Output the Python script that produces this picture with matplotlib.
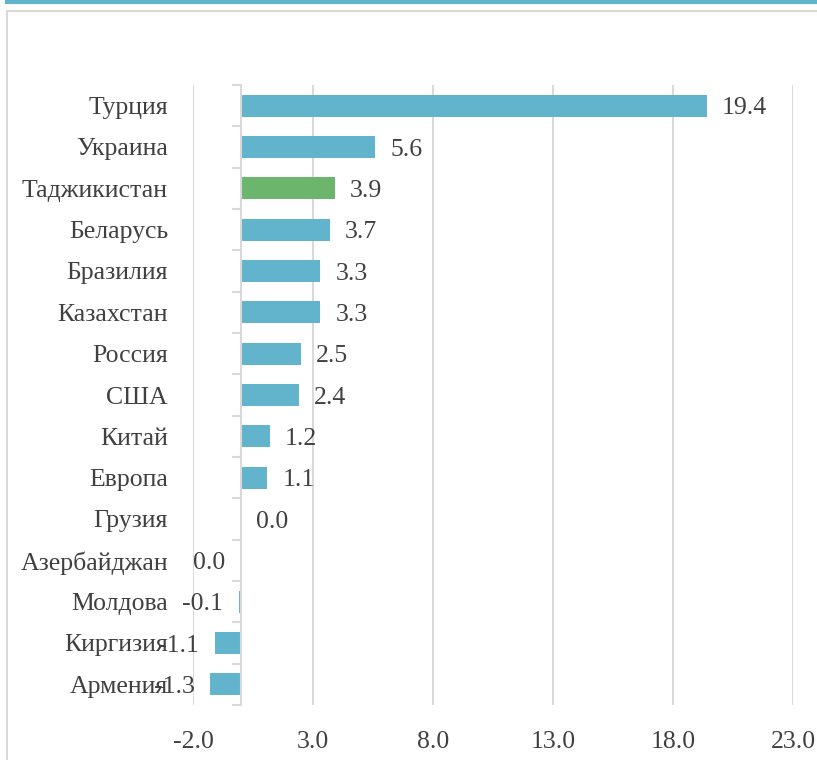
import matplotlib.pyplot as plt
from matplotlib.patches import Rectangle
from matplotlib.lines import Line2D

# данные с картинки (сверху вниз)
countries = ["Турция", "Украина", "Таджикистан", "Беларусь", "Бразилия",
             "Казахстан", "Россия", "США", "Китай", "Европа", "Грузия",
             "Азербайджан", "Молдова", "Киргизия", "Армения"]
values = [19.4, 5.6, 3.9, 3.7, 3.3, 3.3, 2.5, 2.4, 1.2, 1.1, 0.0, -0.01,
          -0.1, -1.1, -1.3]
value_labels = ["19.4", "5.6", "3.9", "3.7", "3.3", "3.3", "2.5", "2.4",
                "1.2", "1.1", "0.0", "0.0", "-0.1", "-1.1", "-1.3"]
highlight = "Таджикистан"
x_ticks = [-2.0, 3.0, 8.0, 13.0, 18.0, 23.0]

BLUE = "#62B4CC"
GREEN = "#6CB56C"
GRID = "#D9D9D9"
TEXT = "#404040"
FS = 18.5

plt.rcParams["font.family"] = ["Liberation Serif", "DejaVu Serif"]

fig = plt.figure(figsize=(8.17, 7.6), dpi=100)

# рамка и верхняя полоса
fig.patches.append(Rectangle((7 / 817, -0.1), 1.0, (760 - 11) / 760 + 0.1,
                             transform=fig.transFigure, fill=False,
                             edgecolor=GRID, linewidth=1.5))
fig.lines.append(Line2D([7 / 817, 1.0], [1 - 1.5 / 760, 1 - 1.5 / 760],
                        transform=fig.transFigure, color=BLUE, linewidth=3))

ax = fig.add_axes([193 / 817, 55 / 760, 600 / 817, 620 / 760])

y = list(range(len(countries)))
colors = [GREEN if c == highlight else BLUE for c in countries]
ax.barh(y, values, height=0.53, color=colors, zorder=3)

for yi, v, lab in zip(y, values, value_labels):
    if v >= 0:
        ax.annotate(lab, (v, yi), xytext=(11, 0), textcoords="offset points",
                    ha="left", va="center_baseline", fontsize=FS, color=TEXT)
    else:
        ax.annotate(lab, (v, yi), xytext=(-11, 0), textcoords="offset points",
                    ha="right", va="center_baseline", fontsize=FS, color=TEXT)

ax.set_xlim(-2, 23)
ax.set_ylim(len(countries) - 0.5, -0.5)
ax.set_xticks(x_ticks)
ax.set_xticklabels([f"{t:.1f}" for t in x_ticks])
ax.grid(axis="x", color=GRID, linewidth=1.5, zorder=0)
ax.tick_params(axis="x", length=0, pad=19, labelsize=FS, labelcolor=TEXT)

# ось категорий проходит через ноль
for s in ["top", "right", "bottom", "left"]:
    ax.spines[s].set_visible(False)
ax.axvline(0, color=GRID, linewidth=1.5, zorder=4)

ax.set_yticks(y)
ax.set_yticklabels(countries)
ax.tick_params(axis="y", length=0, pad=0, labelsize=FS, labelcolor=TEXT)
for lab in ax.get_yticklabels():
    lab.set_x((168 - 193) / 600)
    lab.set_horizontalalignment("right")
    lab.set_verticalalignment("center_baseline")

# засечки между категориями
for b in [i - 0.5 for i in range(len(countries) + 1)]:
    ax.plot([-0.33, 0], [b, b], color=GRID, linewidth=1.5, zorder=4,
            clip_on=False)

fig.savefig("out.png", dpi=100)
